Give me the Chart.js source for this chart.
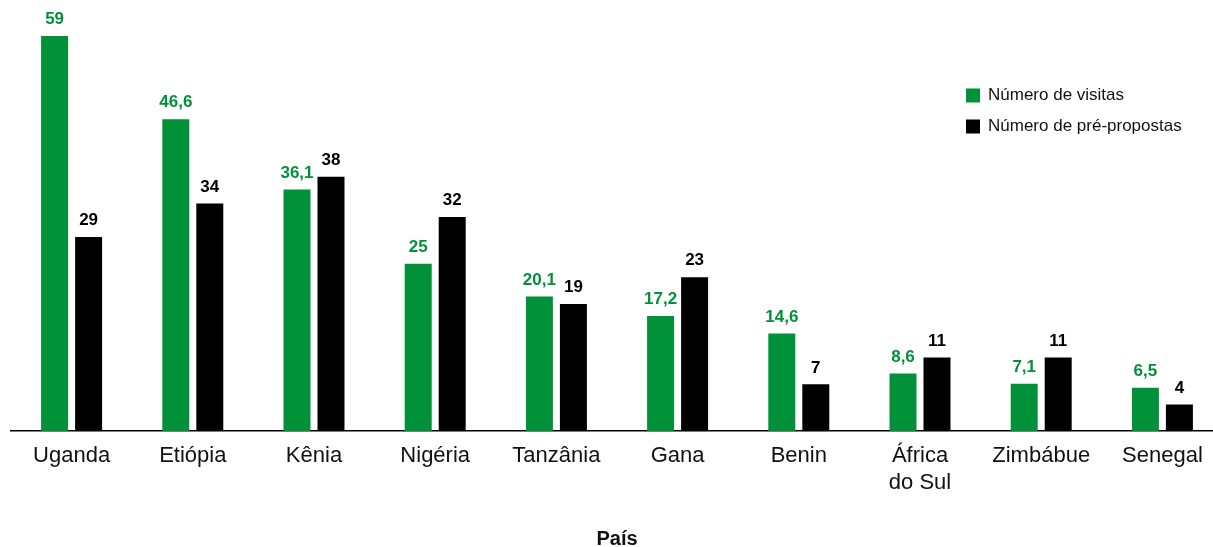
<!DOCTYPE html>
<html lang="pt">
<head>
<meta charset="utf-8">
<title>Visitas e pré-propostas por país</title>
<script src="https://cdn.jsdelivr.net/npm/chart.js@4.4.1/dist/chart.umd.min.js"></script>
<style>
  html, body { margin: 0; padding: 0; background: #ffffff; overflow: hidden; }
  #wrap { position: relative; width: 1224px; height: 547px; }
</style>
</head>
<body>
<div id="wrap"><canvas id="chart"></canvas></div>
<script>
// Países (o rótulo da África do Sul quebra em duas linhas)
const paises = ['Uganda', 'Etiópia', 'Kênia', 'Nigéria', 'Tanzânia', 'Gana', 'Benin', ['África', 'do Sul'], 'Zimbábue', 'Senegal'];
const numeroVisitas = [59, 46.6, 36.1, 25, 20.1, 17.2, 14.6, 8.6, 7.1, 6.5];
const numeroPrePropostas = [29, 34, 38, 32, 19, 23, 7, 11, 11, 4];
const nomesSeries = ['Número de visitas', 'Número de pré-propostas'];
const tituloEixoX = 'País';

const VERDE = '#009139';
const PRETO = '#000000';
const FONTE = "'Liberation Sans', Arial, Helvetica, sans-serif";

// Valor de cada barra escrito acima dela, com vírgula decimal
const rotulosValores = {
  id: 'rotulosValores',
  afterDatasetsDraw(chart) {
    const ctx = chart.ctx;
    ctx.save();
    ctx.font = 'bold 17px ' + FONTE;
    ctx.textAlign = 'center';
    ctx.textBaseline = 'bottom';
    chart.data.datasets.forEach((ds, i) => {
      const meta = chart.getDatasetMeta(i);
      ctx.fillStyle = ds.backgroundColor;
      meta.data.forEach((bar, j) => {
        const txt = String(ds.data[j]).replace('.', ',');
        ctx.fillText(txt, bar.x, bar.y - 8);
      });
    });
    ctx.restore();
  }
};

// Legenda no canto superior direito, em coluna
const legendaLateral = {
  id: 'legendaLateral',
  afterDraw(chart) {
    const ctx = chart.ctx;
    ctx.save();
    ctx.font = '17px ' + FONTE;
    ctx.textAlign = 'left';
    ctx.textBaseline = 'middle';
    const x0 = 966, y0 = 95.5, passo = 31, lado = 14;
    chart.data.datasets.forEach((ds, i) => {
      const cy = y0 + i * passo;
      ctx.fillStyle = ds.backgroundColor;
      ctx.fillRect(x0, cy - lado / 2, lado, lado);
      ctx.fillStyle = '#111111';
      ctx.fillText(ds.label, x0 + 22, cy);
    });
    ctx.restore();
  }
};

new Chart(document.getElementById('chart'), {
  type: 'bar',
  data: {
    labels: paises,
    datasets: [
      { label: nomesSeries[0], data: numeroVisitas, backgroundColor: VERDE },
      { label: nomesSeries[1], data: numeroPrePropostas, backgroundColor: PRETO }
    ]
  },
  options: {
    responsive: true,
    maintainAspectRatio: false,
    animation: false,
    events: [],
    categoryPercentage: 0.561,
    barPercentage: 0.794,
    layout: { padding: { top: 16, left: 11, right: 1, bottom: 0 } },
    plugins: {
      legend: { display: false },
      tooltip: { enabled: false }
    },
    scales: {
      x: {
        grid: { display: false, drawTicks: false },
        border: { display: true, color: '#000000', width: 1.5 },
        ticks: {
          color: '#111111',
          padding: 12,
          maxRotation: 0,
          autoSkip: false,
          font: { family: FONTE, size: 22, lineHeight: 1.2 }
        },
        title: {
          display: true,
          text: tituloEixoX,
          color: '#111111',
          padding: { top: 23, bottom: 0 },
          font: { family: FONTE, size: 20, weight: 'bold', lineHeight: 0.8 }
        }
      },
      y: {
        display: false,
        min: 0,
        max: 62
      }
    }
  },
  plugins: [rotulosValores, legendaLateral]
});
</script>
</body>
</html>
